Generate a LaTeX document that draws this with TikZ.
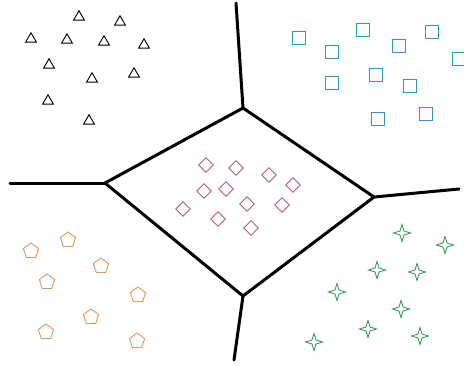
\documentclass[tikz,border=0pt]{standalone}
\usepackage{xcolor}
\usepackage{tikz}
\usetikzlibrary{shapes.geometric}

\definecolor{sqblue}{RGB}{52,150,190}
\definecolor{dmred}{RGB}{176,96,112}
\definecolor{pnorange}{RGB}{222,150,90}
\definecolor{stgreen}{RGB}{60,150,95}

\begin{document}
\begin{tikzpicture}[
  x=1pt, y=-1pt,
  edge/.style={line width=3pt, line join=round, line cap=round},
  mark base/.style={draw, line width=0.9pt, inner sep=0pt},
  tri/.style={mark base, regular polygon, regular polygon sides=3, minimum size=12.5pt, draw=black},
  sq/.style={mark base, rectangle, minimum width=13.5pt, minimum height=13.5pt, draw=sqblue},
  dm/.style={mark base, diamond, minimum width=15pt, minimum height=15pt, draw=dmred},
  pent/.style={mark base, regular polygon, regular polygon sides=5, minimum size=16pt, draw=pnorange},
  spark/.style={mark base, star, star points=4, star point ratio=3, minimum size=17pt, draw=stgreen}
]
\useasboundingbox (0,0) rectangle (464,365);

% cell vertices
\coordinate (top) at (243,108);
\coordinate (left) at (105,183);
\coordinate (right) at (374,197);
\coordinate (bot) at (243,296);
\coordinate (topend) at (236,3);
\coordinate (leftend) at (10,183);
\coordinate (rightend) at (459,189);
\coordinate (botend) at (234,360);

\draw[edge] (top) -- (right) -- (bot) -- (left) -- cycle;
\draw[edge] (top) -- (topend);
\draw[edge] (left) -- (leftend);
\draw[edge] (right) -- (rightend);
\draw[edge] (bot) -- (botend);

% triangles
\foreach \x/\y [count=\i] in {79/17, 120/22, 31/39, 67/40, 104/42, 144/45, 49/65, 92/79, 134/74, 48/101, 89/121}
  \node[tri] (tri\i) at (\x,\y) {};
% squares
\foreach \x/\y [count=\i] in {299/38, 363/30, 432/32, 332/52, 399/46, 459/59, 332/83, 376/75, 410/86, 378/119, 426/114}
  \node[sq] (sq\i) at (\x,\y) {};
% diamonds
\foreach \x/\y [count=\i] in {206/165, 236/168, 269/175, 293/185, 204/191, 226/189, 247/204, 282/205, 183/209, 218/219, 251/228}
  \node[dm] (dm\i) at (\x,\y) {};
% pentagons
\foreach \x/\y [count=\i] in {68/240, 31/251, 101/266, 47/282, 138/295, 91/317, 46/332, 137/341}
  \node[pent] (pent\i) at (\x,\y) {};
% stars
\foreach \x/\y [count=\i] in {402/233, 445/245, 377/270, 417/272, 337/292, 401/309, 368/329, 420/336, 314/342}
  \node[spark] (spark\i) at (\x,\y) {};
\end{tikzpicture}
\end{document}
